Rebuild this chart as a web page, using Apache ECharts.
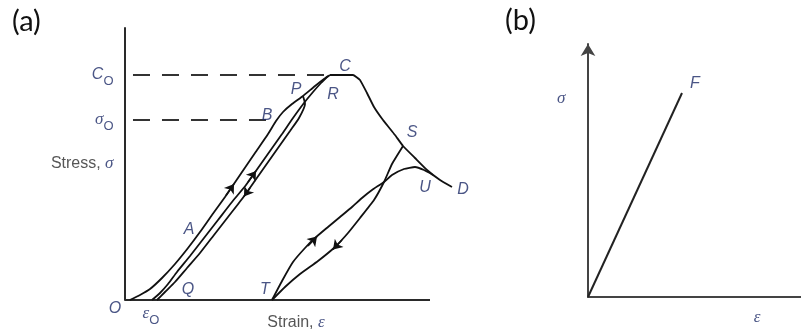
<!DOCTYPE html>
<html>
<head>
<meta charset="utf-8">
<script src="https://cdn.jsdelivr.net/npm/echarts@6/dist/echarts.min.js"></script>
<style>
  html, body { margin: 0; padding: 0; background: #fff; }
  #chart { width: 801px; height: 330px; }
</style>
</head>
<body>
<div id="chart"></div>
<script>
// ---- (a) complete stress-strain curve with unload/reload cycles (normalised units) ----
const STRESS_CO = 82.72;      // C_O, peak strength
const STRESS_SIGMA_O = 66.18; // sigma_O, yield level at B
const STRAIN_EPS_O = 8.85;    // permanent strain after unloading from P
const STRAIN_AXIS_END = 100;  // drawn length of the strain axis

// virgin loading O - A - B - P - C
const virginStrain = [1.6, 4.92, 8.20, 12.13, 16.39, 20.66, 24.59, 28.52, 32.79, 37.70, 42.62, 46.89, 49.51, 51.80, 54.75, 58.36, 62.30, 65.25, 67.21];
const virginStress = [0, 1.84, 4.04, 8.09, 13.24, 19.12, 25.00, 31.25, 37.87, 45.96, 54.04, 61.03, 65.81, 69.12, 72.06, 75.00, 78.68, 81.25, 82.72];

// plateau at C and strain softening C - S - U - D
const softStrain = [67.21, 74.75, 77.05, 79.34, 81.64, 84.59, 88.52, 91.15, 95.08, 99.02, 103.28, 107.21];
const softStress = [82.72, 82.72, 80.88, 76.10, 70.96, 66.18, 60.66, 56.62, 52.21, 47.79, 44.12, 41.54];

// unloading P -> Q
const unloadPQStrain = [58.36, 59.02, 57.05, 54.10, 50.16, 46.23, 42.30, 38.36, 33.77, 29.18, 24.59, 20.33, 16.39, 13.11, 10.49];
const unloadPQStress = [75.00, 72.06, 66.91, 62.13, 55.88, 49.63, 43.38, 37.13, 30.51, 23.90, 17.28, 11.76, 6.62, 2.94, 0];

// reloading Q -> R
const reloadQRStrain = [8.85, 11.48, 14.10, 17.05, 21.31, 25.90, 30.49, 35.08, 39.67, 43.61, 47.54, 51.48, 55.08, 58.69, 61.64, 64.26, 66.56];
const reloadQRStress = [0, 2.57, 5.88, 10.29, 16.18, 22.79, 29.41, 36.03, 42.28, 48.53, 54.78, 61.03, 66.91, 72.43, 76.47, 79.78, 82.35];

// unloading S -> T
const unloadSTStrain = [91.15, 87.54, 84.92, 81.64, 77.05, 73.11, 68.85, 63.28, 57.38, 52.46, 48.20];
const unloadSTStress = [56.62, 50.00, 43.38, 36.76, 30.15, 24.63, 19.49, 14.34, 9.56, 4.78, 0];

// reloading T -> U
const reloadTUStrain = [48.20, 51.48, 55.08, 59.02, 62.30, 66.56, 70.49, 74.43, 77.70, 80.98, 84.92, 87.54, 91.48, 95.08, 98.03, 100.98];
const reloadTUStress = [0, 6.99, 13.97, 19.12, 22.79, 26.84, 30.51, 34.19, 37.50, 40.44, 43.38, 45.96, 48.16, 48.90, 47.79, 45.96];

// direction arrows: [strainFrom, stressFrom, strainTo, stressTo] along the paths
const arrowSegments = [
  [33.11, 38.42, 35.74, 42.65],   // loading O-A-B
  [40.33, 43.38, 42.95, 47.43],   // reloading Q-R
  [40.98, 41.18, 39.02, 38.05],   // unloading P-Q
  [60.00, 19.85, 62.95, 23.35],   // reloading T-U
  [71.15, 22.06, 68.20, 18.57]    // unloading S-T
];

// guide levels: dashed lines from the stress axis
const guideStarts = [2.62, 2.62];
const guideEnds = [67.21, 48.9];
const guideLevels = [STRESS_CO, STRESS_SIGMA_O];

// axis texts
const stressTickValues = [STRESS_CO, STRESS_SIGMA_O, 50];
const stressTickLabels = ['{it|C}{sub|O}', '{gk|σ}{sub|O}', '{tx|Stress, }{gk|σ}'];
const strainTickValues = [0, STRAIN_EPS_O, 56.07];
const strainTickLabels = ['{it|O}', '{gk|ε}{sub|O}', '{tx|Strain, }{gk|ε}'];

// named points on the paths
const pointNames = ['A', 'B', 'P', 'C', 'R', 'S', 'U', 'D', 'Q', 'T'];
const pointStrain = [24.59, 49.51, 58.36, 67.21, 66.56, 91.15, 100.98, 107.21, 10.49, 48.20];
const pointStress = [25.00, 65.81, 75.00, 82.72, 82.35, 56.62, 45.96, 41.54, 0, 0];

// ---- (b) linear elastic response ----
const linearStrain = [0, 44.13];
const linearStress = [0, 80.63];
const linearEndName = 'F';
const bStressLabelAt = 78.26;
const bStrainLabelAt = 79.34;

const NAVY = '#1d2b66';
const INK = '#111';
const AXIS = '#2a2a2a';

const RICH = {
  it: { fontFamily: 'Liberation Sans', fontStyle: 'italic', fontSize: 16, color: NAVY },
  gk: { fontFamily: 'Liberation Serif', fontStyle: 'italic', fontSize: 17, color: NAVY },
  sub: { fontFamily: 'Liberation Sans', fontStyle: 'normal', fontSize: 13, color: NAVY, padding: [12, 0, 0, 0] },
  tx: { fontFamily: 'Liberation Sans', fontStyle: 'normal', fontSize: 16, color: '#2b2b2b' }
};

const pairs = (xs, ys) => xs.map((x, i) => [x, ys[i]]);

function curve(xs, ys, smooth) {
  return {
    type: 'line', xAxisIndex: 0, yAxisIndex: 0,
    data: pairs(xs, ys), symbol: 'none', smooth: smooth, clip: false,
    lineStyle: { color: INK, width: 1.8 }, silent: true, animation: false, z: 3
  };
}

function textSeries(gridIdx, items) {
  return {
    type: 'scatter', xAxisIndex: gridIdx, yAxisIndex: gridIdx,
    symbolSize: 1, itemStyle: { color: 'rgba(0,0,0,0)' }, clip: false, silent: true, animation: false, z: 6,
    data: items.map(it => ({
      value: it.at,
      label: {
        show: true, position: it.pos || 'inside', distance: it.dist || 0,
        offset: it.off || [0, 0], formatter: it.text, rich: RICH,
        fontFamily: 'Liberation Sans', fontStyle: 'italic', fontSize: 16, color: NAVY
      }
    }))
  };
}

// placement of each text relative to its anchor
const pointOffsets = {
  A: [-11, -2], B: [-9, -5], P: [-7, -6], C: [15, -8], R: [5, 19],
  S: [9, -13], U: [-8, 13], D: [11, 3], Q: [31, -10], T: [-7, -10]
};
const strainOffsets = [[-10, 9], [-1, 14], [0, 23]];

const series = [
  curve(virginStrain, virginStress, 0.2),
  curve(softStrain, softStress, 0.1),
  curve(unloadPQStrain, unloadPQStress, 0.2),
  curve(reloadQRStrain, reloadQRStress, 0.2),
  curve(unloadSTStrain, unloadSTStress, 0.12),
  curve(reloadTUStrain, reloadTUStress, 0.15)
];

// strain axis line, drawn only over its own length
series.push({
  type: 'line', xAxisIndex: 0, yAxisIndex: 0,
  data: [[0, 0], [STRAIN_AXIS_END, 0]], symbol: 'none',
  lineStyle: { color: AXIS, width: 2 }, silent: true, animation: false, z: 2
});

guideLevels.forEach((lvl, i) => {
  series.push({
    type: 'line', xAxisIndex: 0, yAxisIndex: 0,
    data: [[guideStarts[i], lvl], [guideEnds[i], lvl]], symbol: 'none',
    lineStyle: { color: '#333', width: 2.2, type: [17, 12] }, silent: true, animation: false, z: 2
  });
});

series.push({
  type: 'lines', coordinateSystem: 'cartesian2d', xAxisIndex: 0, yAxisIndex: 0,
  symbol: ['none', 'arrow'], symbolSize: 9, silent: true, animation: false, z: 4,
  lineStyle: { color: INK, width: 1.5, opacity: 1 },
  data: arrowSegments.map(s => ({ coords: [[s[0], s[1]], [s[2], s[3]]] }))
});

const textItemsA = [];
stressTickValues.forEach((v, i) => textItemsA.push({ at: [0, v], pos: 'left', dist: 11, text: stressTickLabels[i] }));
strainTickValues.forEach((v, i) => textItemsA.push({ at: [v, 0], off: strainOffsets[i], text: strainTickLabels[i] }));
pointNames.forEach((n, i) => textItemsA.push({ at: [pointStrain[i], pointStress[i]], off: pointOffsets[n], text: '{it|' + n + '}' }));
series.push(textSeries(0, textItemsA));

series.push({
  type: 'line', xAxisIndex: 1, yAxisIndex: 1, data: pairs(linearStrain, linearStress),
  symbol: 'none', lineStyle: { color: '#222', width: 2 }, silent: true, animation: false
});
series.push(textSeries(1, [
  { at: [linearStrain[1], linearStress[1]], off: [13, -9], text: '{it|' + linearEndName + '}' },
  { at: [0, bStressLabelAt], pos: 'left', dist: 22, text: '{gk|σ}' },
  { at: [bStrainLabelAt, 0], off: [0, 21], text: '{gk|ε}' }
]));

const plainAxis = (gridIndex, max, extra) => Object.assign({
  type: 'value', gridIndex, min: 0, max: max,
  axisLine: { show: true, onZero: false, lineStyle: { color: AXIS, width: 2 } },
  axisTick: { show: false }, axisLabel: { show: false }, splitLine: { show: false }
}, extra || {});

const option = {
  backgroundColor: '#fff',
  animation: false,
  title: [
    { text: '(a)', left: 12, top: 7, padding: 0, textStyle: { fontFamily: 'Lato', fontSize: 29, fontWeight: 'normal', color: '#111' } },
    { text: '(b)', left: 505, top: 6, padding: 0, textStyle: { fontFamily: 'Lato', fontSize: 29, fontWeight: 'normal', color: '#111' } }
  ],
  grid: [
    // strain scale: 3.05 px per unit, extended so the softening branch to D fits
    { left: 125, top: 28, width: 350.75, height: 272 },
    { left: 588, top: 44, width: 213, height: 253 }
  ],
  xAxis: [
    plainAxis(0, 115, { axisLine: { show: false } }),
    plainAxis(1, 100, { axisLine: { show: true, onZero: false, lineStyle: { color: '#444', width: 2 } } })
  ],
  yAxis: [
    plainAxis(0, 100),
    plainAxis(1, 100, { axisLine: { show: true, onZero: false, symbol: ['none', 'arrow'], symbolSize: [11, 12], lineStyle: { color: '#444', width: 2 } } })
  ],
  series
};

const chart = echarts.init(document.getElementById('chart'), null, { renderer: 'canvas' });
chart.setOption(option);
</script>
</body>
</html>
